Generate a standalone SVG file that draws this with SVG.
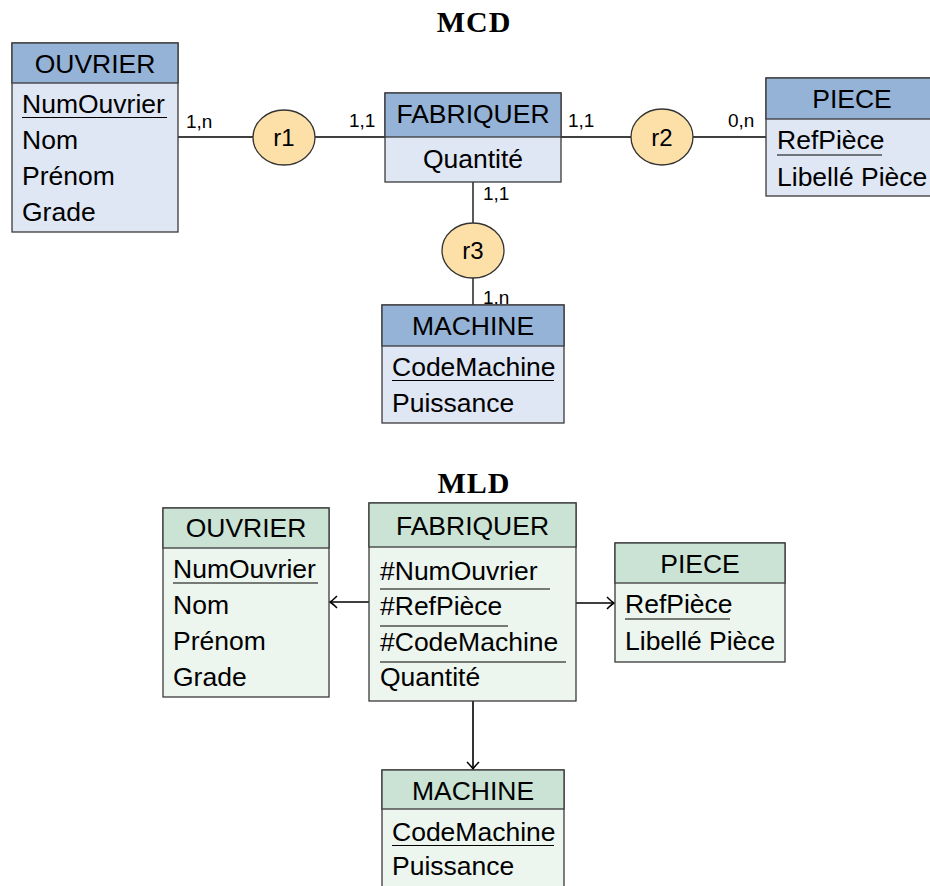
<svg xmlns="http://www.w3.org/2000/svg" width="930" height="886" viewBox="0 0 930 886">
  <style>
    .ttl { font-family: "Liberation Serif", "DejaVu Serif", serif; font-weight: bold; font-size: 30px; fill: #000; text-anchor: middle; letter-spacing: 1px; }
    .hd { font-family: "Liberation Sans", "DejaVu Sans", sans-serif; font-size: 26.5px; fill: #000; text-anchor: middle; }
    .at { font-family: "Liberation Sans", "DejaVu Sans", sans-serif; font-size: 26.5px; fill: #000; }
    .card { font-family: "Liberation Sans", "DejaVu Sans", sans-serif; font-size: 19px; fill: #000; }
    .rel { font-family: "Liberation Sans", "DejaVu Sans", sans-serif; font-size: 24px; fill: #000; text-anchor: middle; }
    .box { stroke: #3a3a3a; stroke-width: 1.3; }
    .mcdH { fill: #95b3d7; }
    .mcdB { fill: #dfe6f4; }
    .mldH { fill: #cbe3d4; }
    .mldB { fill: #edf5ef; }
    .ell { fill: #fde0a8; stroke: #333; stroke-width: 1.3; }
    .ul { stroke: #000; stroke-width: 1.2; }
    .ln { stroke: #000; stroke-width: 1.3; fill: none; }
    .fk { stroke: #000; stroke-width: 1.6; fill: none; }
  </style>
  <defs>
    <marker id="arr" viewBox="-10 -8 12 16" markerWidth="12" markerHeight="16" refX="0" refY="0" orient="auto" markerUnits="userSpaceOnUse">
      <path d="M -7 -6 Q -2.5 -1.5 0 0 Q -2.5 1.5 -7 6" fill="none" stroke="#000" stroke-width="1.5"/>
    </marker>
  </defs>

  <rect width="930" height="886" fill="#fff"/>

  <text class="ttl" x="474" y="32">MCD</text>
  <text class="ttl" x="474" y="493">MLD</text>

  <!-- MCD connectors -->
  <g id="mcd-links">
    <line class="ln" x1="178" y1="137" x2="253" y2="137"/>
    <line class="ln" x1="315" y1="137" x2="385" y2="137"/>
    <line class="ln" x1="561" y1="137" x2="631" y2="137"/>
    <line class="ln" x1="693" y1="137" x2="766" y2="137"/>
    <line class="ln" x1="473" y1="182" x2="473" y2="223"/>
    <line class="ln" x1="473" y1="278" x2="473" y2="305"/>
    <text class="card" x="186" y="128">1,n</text>
    <text class="card" x="349" y="127">1,1</text>
    <text class="card" x="568" y="127">1,1</text>
    <text class="card" x="728" y="127">0,n</text>
    <text class="card" x="483" y="200">1,1</text>
    <text class="card" x="483" y="304">1,n</text>
  </g>

  <!-- MCD relationships -->
  <g id="r1">
    <ellipse class="ell" cx="284" cy="137.5" rx="31" ry="27.5"/>
    <text class="rel" x="284" y="146">r1</text>
  </g>
  <g id="r2">
    <ellipse class="ell" cx="662" cy="137" rx="31" ry="28"/>
    <text class="rel" x="662" y="146">r2</text>
  </g>
  <g id="r3">
    <ellipse class="ell" cx="473" cy="250.5" rx="31" ry="27.5"/>
    <text class="rel" x="473" y="259">r3</text>
  </g>

  <!-- MCD entities -->
  <g id="mcd-ouvrier">
    <rect class="box mcdB" x="12" y="43" width="166" height="189"/>
    <rect class="box mcdH" x="12" y="43" width="166" height="40"/>
    <text class="hd" x="95" y="73">OUVRIER</text>
    <text class="at" x="22" y="113">NumOuvrier</text>
    <line class="ul" x1="22" y1="117.5" x2="167" y2="117.5"/>
    <text class="at" x="22" y="149">Nom</text>
    <text class="at" x="22" y="185">Prénom</text>
    <text class="at" x="22" y="221">Grade</text>
  </g>

  <g id="mcd-fabriquer">
    <rect class="box mcdB" x="385" y="93" width="176" height="89"/>
    <rect class="box mcdH" x="385" y="93" width="176" height="44"/>
    <text class="hd" x="473" y="123">FABRIQUER</text>
    <text class="hd" x="473" y="168">Quantité</text>
  </g>

  <g id="mcd-piece">
    <rect class="box mcdB" x="766" y="78" width="172" height="118"/>
    <rect class="box mcdH" x="766" y="78" width="172" height="41"/>
    <text class="hd" x="852" y="108">PIECE</text>
    <text class="at" x="777" y="149">RefPièce</text>
    <line class="ul" x1="777" y1="155" x2="882" y2="155"/>
    <text class="at" x="777" y="186">Libellé Pièce</text>
  </g>

  <g id="mcd-machine">
    <rect class="box mcdB" x="382" y="305" width="182" height="118"/>
    <rect class="box mcdH" x="382" y="305" width="182" height="41"/>
    <text class="hd" x="473" y="335">MACHINE</text>
    <text class="at" x="392" y="376">CodeMachine</text>
    <line class="ul" x1="392" y1="380.5" x2="554" y2="380.5"/>
    <text class="at" x="392" y="412">Puissance</text>
  </g>

  <!-- MLD connectors -->
  <g id="mld-links">
    <line class="fk" x1="369" y1="602" x2="330" y2="602" marker-end="url(#arr)"/>
    <line class="fk" x1="576" y1="603" x2="614" y2="603" marker-end="url(#arr)"/>
    <line class="fk" x1="473" y1="701" x2="473" y2="769" marker-end="url(#arr)"/>
  </g>

  <!-- MLD tables -->
  <g id="mld-ouvrier">
    <rect class="box mldB" x="163" y="508" width="166" height="189"/>
    <rect class="box mldH" x="163" y="508" width="166" height="40"/>
    <text class="hd" x="246" y="537">OUVRIER</text>
    <text class="at" x="173" y="578">NumOuvrier</text>
    <line class="ul" x1="173" y1="583" x2="318" y2="583"/>
    <text class="at" x="173" y="614">Nom</text>
    <text class="at" x="173" y="650">Prénom</text>
    <text class="at" x="173" y="686">Grade</text>
  </g>

  <g id="mld-fabriquer">
    <rect class="box mldB" x="369" y="503" width="207" height="198"/>
    <rect class="box mldH" x="369" y="503" width="207" height="44"/>
    <text class="hd" x="472.5" y="535">FABRIQUER</text>
    <text class="at" x="380" y="580">#NumOuvrier</text>
    <line class="ul" x1="380" y1="589" x2="550" y2="589"/>
    <text class="at" x="380" y="615">#RefPièce</text>
    <line class="ul" x1="380" y1="626" x2="508" y2="626"/>
    <text class="at" x="380" y="651">#CodeMachine</text>
    <line class="ul" x1="380" y1="662" x2="566" y2="662"/>
    <text class="at" x="380" y="686">Quantité</text>
  </g>

  <g id="mld-piece">
    <rect class="box mldB" x="615" y="543" width="170" height="119"/>
    <rect class="box mldH" x="615" y="543" width="170" height="40"/>
    <text class="hd" x="700" y="573">PIECE</text>
    <text class="at" x="625" y="613">RefPièce</text>
    <line class="ul" x1="625" y1="619" x2="730" y2="619"/>
    <text class="at" x="625" y="650">Libellé Pièce</text>
  </g>

  <g id="mld-machine">
    <rect class="box mldB" x="382" y="770" width="182" height="130"/>
    <rect class="box mldH" x="382" y="770" width="182" height="39"/>
    <text class="hd" x="473" y="800">MACHINE</text>
    <text class="at" x="392" y="841">CodeMachine</text>
    <line class="ul" x1="392" y1="845.5" x2="554" y2="845.5"/>
    <text class="at" x="392" y="875">Puissance</text>
  </g>
</svg>
